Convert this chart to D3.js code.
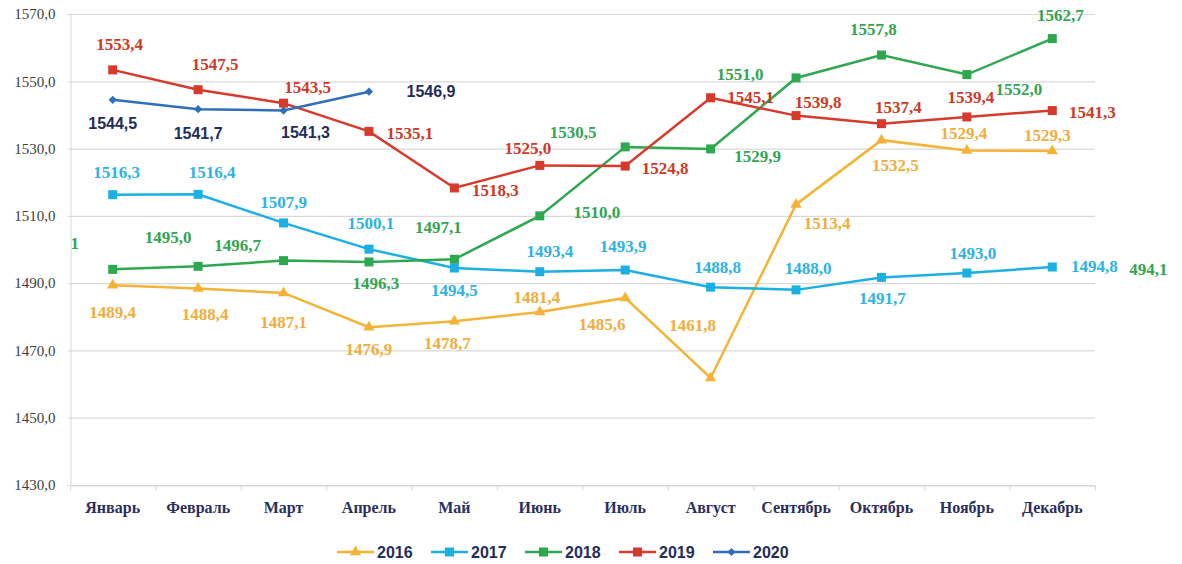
<!DOCTYPE html>
<html>
<head>
<meta charset="utf-8">
<script src="https://cdn.jsdelivr.net/npm/d3@7"></script>
<style>
  body { margin: 0; background: #fff; }
  svg { display: block; }
</style>
</head>
<body>
<svg id="chart" width="1182" height="564"></svg>
<script>
/////////////////////////////////////////////////////////////////////////////////////
// Data
var months = ["Январь", "Февраль", "Март", "Апрель", "Май", "Июнь",
              "Июль", "Август", "Сентябрь", "Октябрь", "Ноябрь", "Декабрь"];
var yTicks = [1430, 1450, 1470, 1490, 1510, 1530, 1550, 1570];
var years = ["2016", "2017", "2018", "2019", "2020"];

var values2016 = [1489.4, 1488.4, 1487.1, 1476.9, 1478.7, 1481.4, 1485.6, 1461.8, 1513.4, 1532.5, 1529.4, 1529.3];
var values2017 = [1516.3, 1516.4, 1507.9, 1500.1, 1494.5, 1493.4, 1493.9, 1488.8, 1488.0, 1491.7, 1493.0, 1494.8];
var values2018 = [1494.1, 1495.0, 1496.7, 1496.3, 1497.1, 1510.0, 1530.5, 1529.9, 1551.0, 1557.8, 1552.0, 1562.7];
var values2019 = [1553.4, 1547.5, 1543.5, 1535.1, 1518.3, 1525.0, 1524.8, 1545.1, 1539.8, 1537.4, 1539.4, 1541.3];
var values2020 = [1544.5, 1541.7, 1541.3, 1546.9];

// label offsets from the point (px), per series
var offs2016 = [[0,27],[7,26],[0,30],[0,22],[-7,22],[-3,-15],[-23,27],[-18,-53],[31,19],[14,25],[-3,-17],[-5,-15]];
var offs2017 = [[4,-22],[14,-22],[0,-20],[2,-26],[0,22],[10,-20],[-2,-24],[7,-20],[12,-21],[1,21],[6,-20],[42,0]];
var offs2018 = [[-38,-26],[-30,-29],[-46,-15],[7,22],[-16,-32],[57,-3],[-52,-14],[47,8],[-56,-3],[-8,-26],[52,15],[8,-23]];
var offs2019 = [[7,-25],[17,-25],[24,-16],[41,2],[41,3],[-12,-17],[40,2],[40,0],[22,-13],[17,-16],[4,-19],[40,2]];
var offs2020 = [[0,24],[0,24],[22,22],[62,0]];

/////////////////////////////////////////////////////////////////////////////////////
// Margins
var svg = d3.select("#chart");
var margin = {left: 70, right: 87, top: 14, bottom: 79};
var w = 1182, h = 564;
var serif = "'Liberation Serif', 'Times New Roman', 'DejaVu Serif', serif";
var sans = "'Liberation Sans', Arial, sans-serif";

var xScale = d3.scaleBand()
               .domain(months)
               .range([margin.left, w - margin.right]);
var yScale = d3.scaleLinear()
               .domain([1430, 1570])
               .range([h - margin.bottom, margin.top]);

function xc(i) { return xScale(months[i]) + xScale.bandwidth() / 2; }
function fmt(v) { return d3.format(".1f")(v).replace(".", ","); }

var series = [
  {name: "2016", values: values2016, offs: offs2016, color: "#F5B335", text: "#F0AD3C", shape: "triangle", font: serif},
  {name: "2017", values: values2017, offs: offs2017, color: "#1BAFE2", text: "#2DB3E3", shape: "square", font: serif},
  {name: "2018", values: values2018, offs: offs2018, color: "#2EA84F", text: "#33A552", shape: "square", font: serif},
  {name: "2019", values: values2019, offs: offs2019, color: "#D7392B", text: "#CC3A27", shape: "square", font: serif},
  {name: "2020", values: values2020, offs: offs2020, color: "#2F6EBA", text: "#1F2D5C", shape: "diamond", font: sans}
];

function symbolPath(shape) {
  if (shape == "triangle") return d3.symbol().type(d3.symbolTriangle).size(55)();
  if (shape == "diamond") return d3.symbol().type(d3.symbolSquare).size(34)();
  return d3.symbol().type(d3.symbolSquare).size(81)();
}

/////////////////////////////////////////////////////////////////////////////////////
// Grid + axes
svg.append("g")
   .selectAll("line")
   .data(yTicks)
   .enter()
   .append("line")
   .attr("x1", margin.left)
   .attr("x2", w - margin.right)
   .attr("y1", function(d) { return yScale(d) + 0.5; })
   .attr("y2", function(d) { return yScale(d) + 0.5; })
   .style("stroke", "#d9d9d9")
   .style("stroke-width", 1.2);

var yAxis = d3.axisLeft(yScale)
              .tickValues(yTicks)
              .tickSize(3)
              .tickPadding(12)
              .tickFormat(function(d) { return fmt(d); });
var gy = svg.append("g")
            .attr("transform", "translate(" + (margin.left + 0.5) + ",0)")
            .call(yAxis);
gy.select(".domain").style("stroke", "#d9d9d9");
gy.selectAll(".tick line").style("stroke", "#d9d9d9");
gy.selectAll(".tick text")
  .style("font-family", serif)
  .style("font-size", "15px")
  .style("fill", "#404040");

var xAxis = d3.axisBottom(xScale).tickSize(0).tickPadding(16);
var gx = svg.append("g")
            .attr("transform", "translate(0," + (h - margin.bottom + 0.5) + ")")
            .call(xAxis);
gx.select(".domain").style("stroke", "#d9d9d9").style("stroke-width", 1.2);
gx.selectAll(".tick text")
  .style("font-family", serif)
  .style("font-weight", "bold")
  .style("font-size", "16px")
  .style("fill", "#2B2F5E");
// tick marks between categories
gx.selectAll(".sep")
  .data(d3.range(months.length + 1))
  .enter()
  .append("line")
  .attr("x1", function(i) { return margin.left + i * xScale.step() + 0.5; })
  .attr("x2", function(i) { return margin.left + i * xScale.step() + 0.5; })
  .attr("y1", 0)
  .attr("y2", 5)
  .style("stroke", "#d9d9d9");

/////////////////////////////////////////////////////////////////////////////////////
// Lines + markers
var line = d3.line()
             .x(function(d, i) { return xc(i); })
             .y(function(d) { return yScale(d); });

series.forEach(function(s) {
  svg.append("path")
     .datum(s.values)
     .attr("d", line)
     .style("fill", "none")
     .style("stroke", s.color)
     .style("stroke-width", 2.5);
});

series.forEach(function(s) {
  svg.selectAll(".m" + s.name)
     .data(s.values)
     .enter()
     .append("path")
     .attr("d", symbolPath(s.shape))
     .attr("transform", function(d, i) {
       return "translate(" + xc(i) + "," + yScale(d) + ")" + (s.shape == "diamond" ? " rotate(45)" : "");
     })
     .style("fill", s.color);
});

/////////////////////////////////////////////////////////////////////////////////////
// Data labels
series.forEach(function(s) {
  svg.selectAll(".l" + s.name)
     .data(s.values)
     .enter()
     .append("text")
     .attr("x", function(d, i) { return xc(i) + s.offs[i][0]; })
     .attr("y", function(d, i) { return yScale(d) + s.offs[i][1]; })
     .attr("text-anchor", "middle")
     .attr("dominant-baseline", "central")
     .style("font-family", s.font)
     .style("font-weight", "bold")
     .style("font-size", s.name == "2020" ? "16px" : "17px")
     .style("fill", s.text)
     .text(function(d, i) {
       // the January 2018 label is split in the source picture
       if (s.name == "2018" && i == 0) return "1";
       return fmt(d);
     });
});
// remaining part of the split January 2018 label
svg.append("text")
   .attr("x", xc(11) + 96)
   .attr("y", yScale(values2018[0]))
   .attr("text-anchor", "middle")
   .attr("dominant-baseline", "central")
   .style("font-family", serif)
   .style("font-weight", "bold")
   .style("font-size", "17px")
   .style("fill", "#33A552")
   .text(fmt(values2018[0]).slice(1));

/////////////////////////////////////////////////////////////////////////////////////
// Legend
var legend = svg.append("g").attr("transform", "translate(337,552)");
var items = legend.selectAll("g")
                  .data(series)
                  .enter()
                  .append("g")
                  .attr("transform", function(d, i) { return "translate(" + (i * 94) + ",0)"; });
items.append("line")
     .attr("x1", 0).attr("x2", 37)
     .attr("y1", 0).attr("y2", 0)
     .style("stroke", function(d) { return d.color; })
     .style("stroke-width", 2.5);
items.append("path")
     .attr("d", function(d) { return symbolPath(d.shape); })
     .attr("transform", function(d) { return "translate(18.5,0)" + (d.shape == "diamond" ? " rotate(45)" : ""); })
     .style("fill", function(d) { return d.color; });
items.append("text")
     .attr("x", 40)
     .attr("y", 0)
     .attr("dominant-baseline", "central")
     .style("font-family", sans)
     .style("font-weight", "bold")
     .style("font-size", "16px")
     .style("fill", "#1F2D5C")
     .text(function(d) { return d.name; });
</script>
</body>
</html>
